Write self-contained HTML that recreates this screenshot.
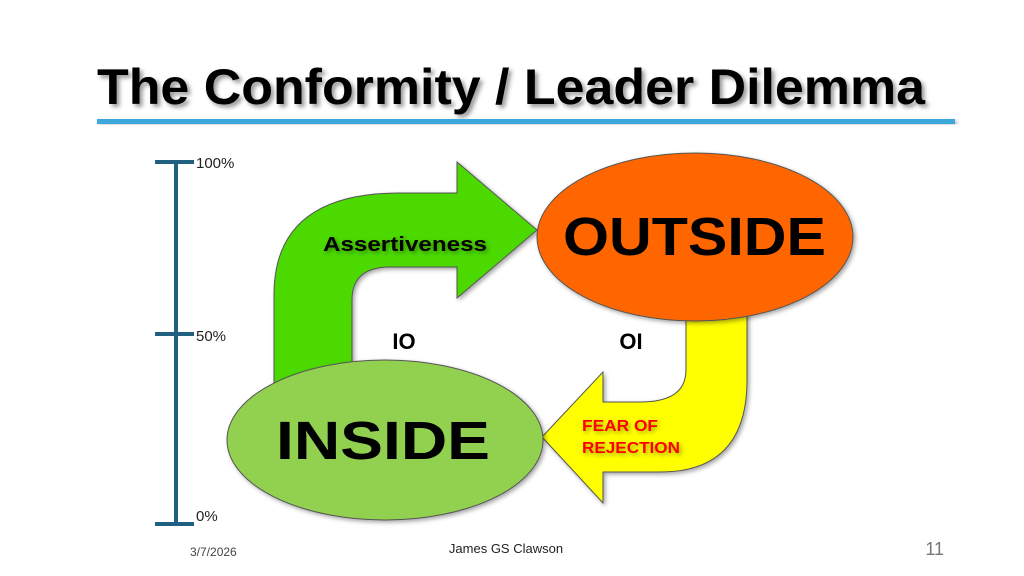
<html><head><style>
body{margin:0;width:1024px;height:576px;background:#fff;overflow:hidden;position:relative;font-family:"Liberation Sans",sans-serif}
</style></head><body>
<svg width="1024" height="576" style="position:absolute;left:0;top:0">
<defs><filter id="s"><feDropShadow dx="2" dy="2" stdDeviation="2" flood-opacity="0.35"/></filter>
<filter id="t"><feDropShadow dx="3" dy="3" stdDeviation="2" flood-opacity="0.4"/></filter></defs>
<text x="97" y="104" font-size="50" font-weight="bold" textLength="828" lengthAdjust="spacingAndGlyphs" filter="url(#t)">The Conformity / Leader Dilemma</text>
<rect x="97" y="119" width="858" height="5" fill="#3ea8dc" filter="url(#s)"/>
<g stroke="#1f5f80" stroke-width="4">
<line x1="176" y1="160" x2="176" y2="525"/>
<line x1="155" y1="162" x2="194" y2="162"/>
<line x1="155" y1="334" x2="194" y2="334"/>
<line x1="155" y1="524" x2="194" y2="524"/>
</g>
<g font-size="15" fill="#222">
<text x="196" y="168">100%</text><text x="196" y="341">50%</text><text x="196" y="521">0%</text>
</g>
<path d="M274,390 L274,295 Q274,193 400,193 L457,193 L457,162 L537,230 L457,298 L457,267 L390,267 Q352,267 352,300 L352,390 Z" fill="#4cd900" stroke="#555" stroke-width="1" filter="url(#s)"/>
<path d="M686,310 L686,370 Q686,402 640,402 L603,402 L603,372 L542,437 L603,503 L603,472 L660,472 Q747,472 747,380 L747,310 Z" fill="#ffff00" stroke="#555" stroke-width="1" filter="url(#s)"/>
<ellipse cx="695" cy="237" rx="158" ry="84" fill="#ff6600" stroke="#555" stroke-width="1" filter="url(#s)"/>
<ellipse cx="385" cy="440" rx="158" ry="80" fill="#92d050" stroke="#555" stroke-width="1" filter="url(#s)"/>
<text x="323" y="251" font-size="20" font-weight="bold" textLength="164" lengthAdjust="spacingAndGlyphs" fill="#000" filter="url(#s)">Assertiveness</text>
<text x="404" y="349" font-size="22" font-weight="bold" text-anchor="middle">IO</text>
<text x="631" y="349" font-size="22" font-weight="bold" text-anchor="middle">OI</text>
<text x="582" y="431" font-size="16" font-weight="bold" fill="#ff0000" filter="url(#s)" textLength="76" lengthAdjust="spacingAndGlyphs">FEAR OF</text>
<text x="582" y="453" font-size="16" font-weight="bold" fill="#ff0000" filter="url(#s)" textLength="98" lengthAdjust="spacingAndGlyphs">REJECTION</text>
<text x="563" y="255" font-size="54" font-weight="bold" textLength="263" lengthAdjust="spacingAndGlyphs">OUTSIDE</text>
<text x="276" y="459" font-size="54" font-weight="bold" textLength="214" lengthAdjust="spacingAndGlyphs">INSIDE</text>
<text x="190" y="556" font-size="12" fill="#444">3/7/2026</text>
<text x="506" y="553" font-size="13" fill="#222" text-anchor="middle">James GS Clawson</text>
<text x="944" y="555" font-size="18" fill="#777" text-anchor="end">11</text>
</svg>
</body></html>
